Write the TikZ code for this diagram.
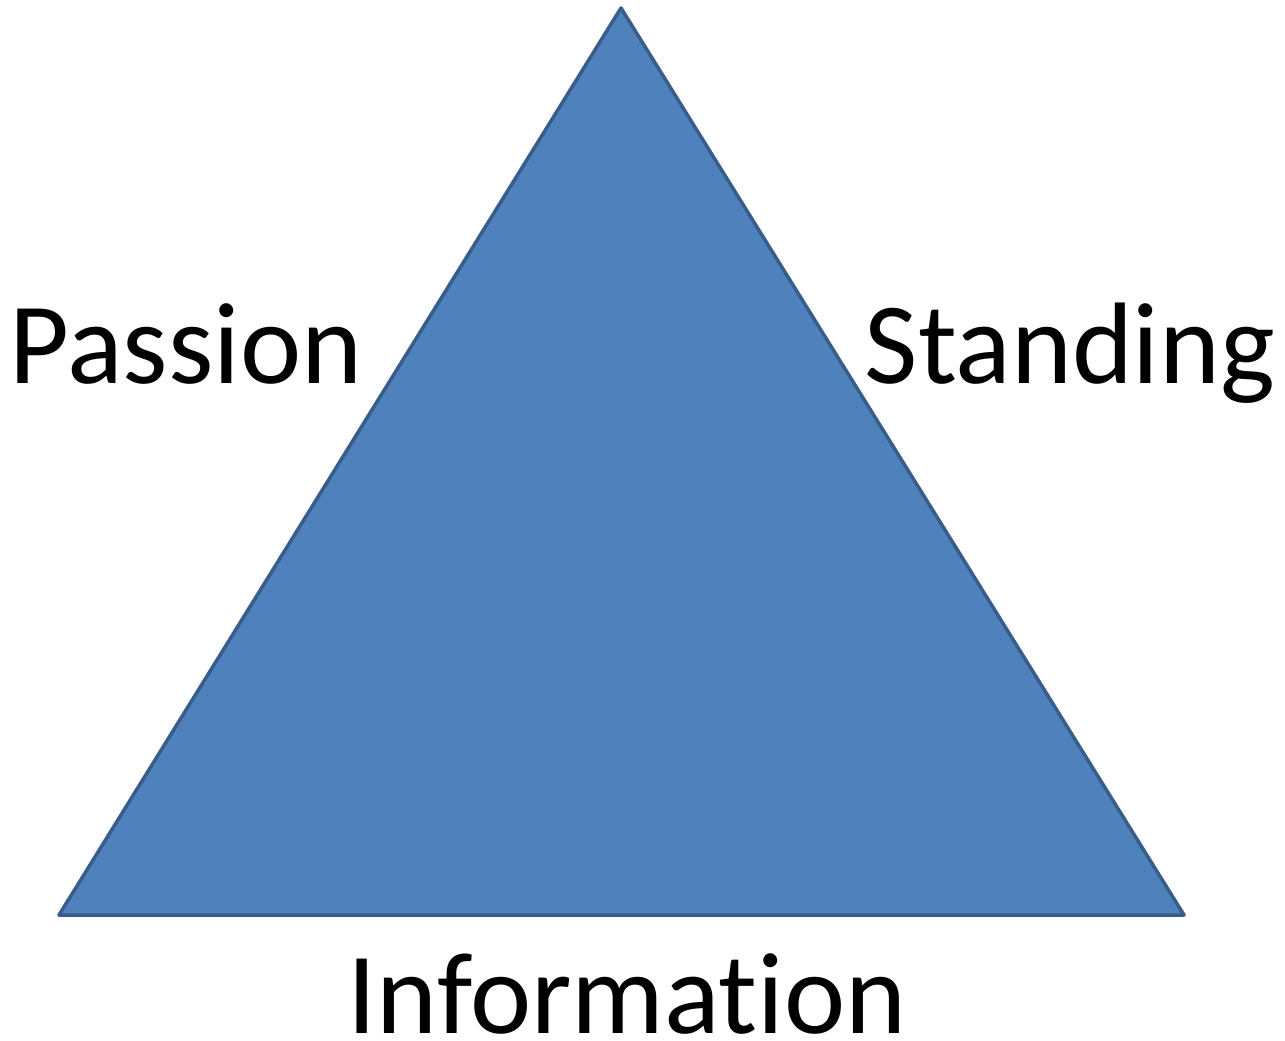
\documentclass[tikz,border=0pt]{standalone}
\usepackage{fontspec}
\setmainfont[Ligatures={NoCommon}]{Carlito}
\definecolor{trifill}{HTML}{4F81BD}
\definecolor{triline}{HTML}{385D8A}
\begin{document}
\begin{tikzpicture}[x=1pt,y=-1pt,
  lbl/.style={inner sep=0pt,anchor=base,font=\fontsize{116}{140}\selectfont}]
\useasboundingbox[fill=white] (0,0) rectangle (1285,1041);
\coordinate (top) at (621,8);
\coordinate (bl) at (59,915);
\coordinate (br) at (1184,915);
\draw[fill=trifill,draw=triline,line width=3.5pt,line join=round] (top) -- (br) -- (bl) -- cycle;
\node[lbl] (passion) at (186,383) {Passion};
\node[lbl] (standing) at (1070,383) {Standing};
\node[lbl,text depth=0pt] (info) at (627,1033) {Information};
\end{tikzpicture}
\end{document}
